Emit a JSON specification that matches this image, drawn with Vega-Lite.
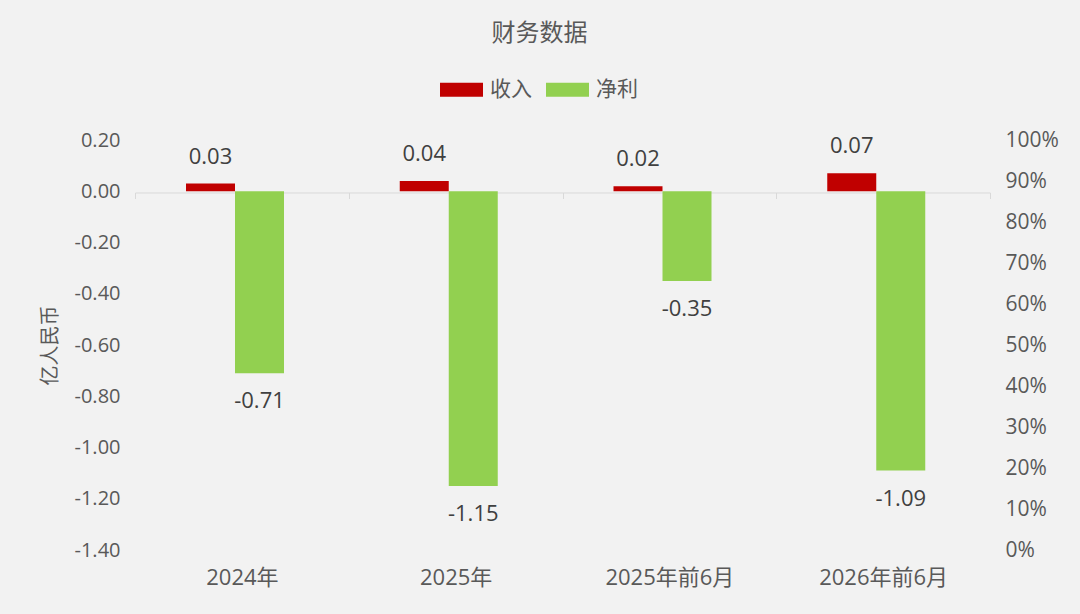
{
  "$schema": "https://vega.github.io/schema/vega-lite/v6.json",
  "width": 855,
  "height": 410,
  "autosize": {"type": "none"},
  "padding": {"left": 135, "top": 140, "right": 90, "bottom": 64},
  "background": "#F2F2F2",
  "config": {
    "view": {"stroke": null},
    "font": "Open Sans, Noto Sans CJK SC",
    "axis": {"grid": false},
    "locale": {"number": {"decimal": ".", "thousands": ",", "grouping": [3], "currency": ["", ""], "minus": "-", "percent": "%"}}
  },
  "title": {"text": "财务数据", "fontSize": 24, "fontWeight": "normal", "color": "#595959", "dx": -23, "offset": 22, "font": "Noto Sans CJK SC"},
  "datasets": {
    "fin": [
      {"period": "2024年", "type": "收入", "value": 0.03},
      {"period": "2024年", "type": "净利", "value": -0.71},
      {"period": "2025年", "type": "收入", "value": 0.04},
      {"period": "2025年", "type": "净利", "value": -1.15},
      {"period": "2025年前6月", "type": "收入", "value": 0.02},
      {"period": "2025年前6月", "type": "净利", "value": -0.35},
      {"period": "2026年前6月", "type": "收入", "value": 0.07},
      {"period": "2026年前6月", "type": "净利", "value": -1.09}
    ],
    "pct": [{"p": 0}, {"p": 1}]
  },
  "layer": [
    {
      "data": {"name": "fin"},
      "encoding": {
        "x": {
          "field": "period", "type": "nominal",
          "sort": ["2024年", "2025年", "2025年前6月", "2026年前6月"],
          "scale": {"paddingInner": 0, "paddingOuter": 0},
          "axis": {
            "title": null, "labelAngle": 0, "offset": -357.5, "labelPadding": 369,
            "tickBand": "extent", "tickSize": 6, "tickColor": "#D9D9D9", "domainColor": "#D9D9D9",
            "labelFontSize": 22, "labelColor": "#595959"
          }
        },
        "xOffset": {"field": "type", "type": "nominal", "sort": ["收入", "净利"], "scale": {"range": [51, 149], "paddingOuter": 0, "paddingInner": 0}},
        "y": {
          "field": "value", "type": "quantitative",
          "scale": {"domain": [-1.4, 0.2], "nice": false},
          "axis": {
            "values": [-1.4, -1.2, -1.0, -0.8, -0.6, -0.4, -0.2, 0, 0.2],
            "format": ".2f", "domain": false, "ticks": false, "labelPadding": 15,
            "labelFontSize": 20, "labelColor": "#595959",
            "title": "亿人民币", "titleFontSize": 20, "titleColor": "#595959", "titleFontWeight": "normal",
            "titlePadding": 14, "titleFont": "Noto Sans CJK SC"
          }
        }
      },
      "layer": [
        {
          "mark": {"type": "bar"},
          "encoding": {
            "color": {
              "field": "type", "type": "nominal",
              "scale": {"domain": ["收入", "净利"], "range": ["#C00000", "#92D050"]},
              "legend": {
                "orient": "none", "legendX": 305, "legendY": -72, "direction": "horizontal", "title": null,
                "symbolType": "M-1,-0.33H1V0.33H-1Z", "symbolSize": 1849, "symbolStrokeWidth": 0, "symbolOpacity": 1,
                "labelFontSize": 21, "labelColor": "#595959", "labelFont": "Noto Sans CJK SC",
                "labelOffset": 7, "columnPadding": 14
              }
            }
          }
        },
        {
          "transform": [{"filter": "datum.type === '收入'"}],
          "mark": {"type": "text", "baseline": "bottom", "dy": -15, "fontSize": 22, "color": "#404040"},
          "encoding": {"text": {"field": "value", "type": "quantitative", "format": ".2f"}}
        },
        {
          "transform": [{"filter": "datum.type === '净利'"}],
          "mark": {"type": "text", "baseline": "top", "dy": 18, "fontSize": 22, "color": "#404040"},
          "encoding": {"text": {"field": "value", "type": "quantitative", "format": ".2f"}}
        }
      ]
    },
    {
      "data": {"name": "pct"},
      "mark": {"type": "point", "opacity": 0},
      "encoding": {
        "y": {
          "field": "p", "type": "quantitative",
          "scale": {"domain": [0, 1], "nice": false},
          "axis": {
            "orient": "right", "values": [0, 0.1, 0.2, 0.3, 0.4, 0.5, 0.6, 0.7, 0.8, 0.9, 1],
            "format": ".0%", "domain": false, "ticks": false, "labelPadding": 15,
            "labelFontSize": 21, "labelColor": "#595959", "title": null
          }
        }
      }
    }
  ],
  "resolve": {"scale": {"y": "independent"}}
}
